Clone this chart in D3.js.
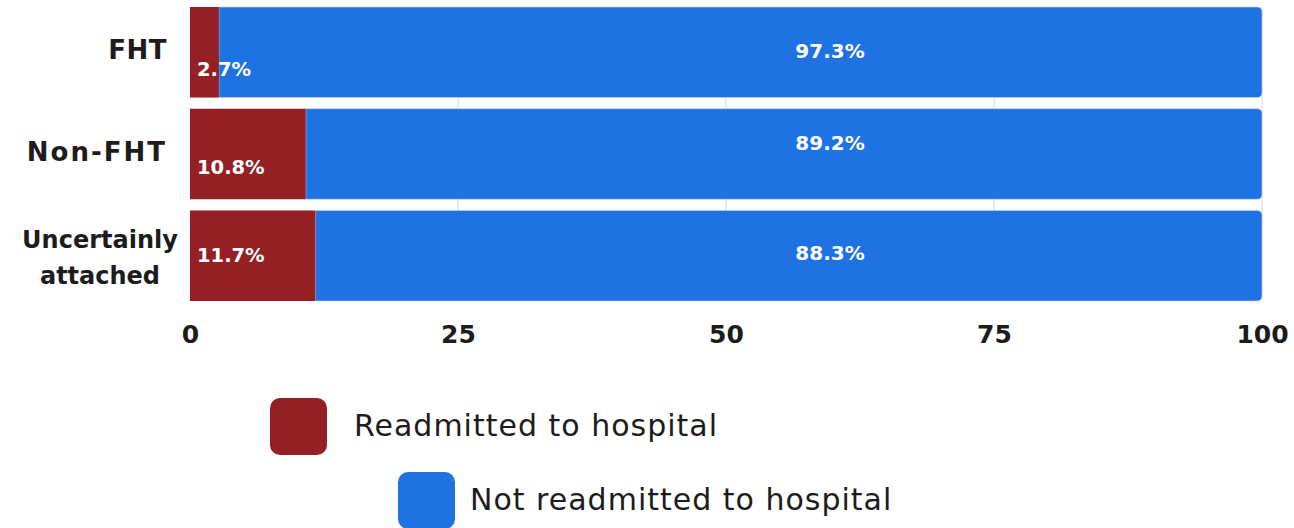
<!DOCTYPE html>
<html>
<head>
<meta charset="utf-8">
<script src="https://cdn.jsdelivr.net/npm/d3@7"></script>
<style>
  body { margin: 0; background: #fff; }
  svg { font-family: "DejaVu Sans", sans-serif; display: block; }
</style>
</head>
<body>
<div id="app"></div>
<script>
// DATA
const categories = ['FHT', 'Non-FHT', 'Uncertainly attached'];
const readmitted = [2.7, 10.8, 11.7];
const notReadmitted = [97.3, 89.2, 88.3];
const xTicks = [0, 25, 50, 75, 100];
const seriesNames = ['Readmitted to hospital', 'Not readmitted to hospital'];

const colors = ['#941f25', '#1f72e2'];
const width = 1294, height = 528;
const margin = { top: 7, left: 190, right: 32 };
const plotH = 294;

const svg = d3.select('#app').append('svg')
  .attr('width', width)
  .attr('height', height);

const x = d3.scaleLinear().domain([0, 100]).range([margin.left, width - margin.right]);
const y = d3.scaleBand().domain(categories).range([margin.top, margin.top + plotH]).paddingInner(0.11).paddingOuter(0.0);

// grid
svg.append('g')
  .selectAll('line')
  .data(xTicks.slice(1))
  .enter().append('line')
    .attr('x1', d => x(d)).attr('x2', d => x(d))
    .attr('y1', margin.top).attr('y2', margin.top + plotH)
    .attr('stroke', '#d9d9d9').attr('stroke-width', 1);

const rows = categories.map((c, i) => ({ cat: c, r: readmitted[i], n: notReadmitted[i] }));

// blue segment, rounded right end
const bars = svg.append('g');
bars.selectAll('path.blue')
  .data(rows)
  .enter().append('path')
    .attr('class', 'blue')
    .attr('fill', colors[1])
    .attr('stroke', '#c9d6ea').attr('stroke-width', 0.6)
    .attr('d', d => {
      const x0 = x(d.r), x1 = x(d.r + d.n), y0 = y(d.cat), h = y.bandwidth(), r = 5;
      return `M${x0},${y0}H${x1 - r}Q${x1},${y0} ${x1},${y0 + r}V${y0 + h - r}Q${x1},${y0 + h} ${x1 - r},${y0 + h}H${x0}Z`;
    });

bars.selectAll('rect.red')
  .data(rows)
  .enter().append('rect')
    .attr('class', 'red')
    .attr('x', x(0))
    .attr('y', d => y(d.cat))
    .attr('width', d => x(d.r) - x(0))
    .attr('height', y.bandwidth())
    .attr('fill', colors[0]);

// value labels
const redDy = [0.69, 0.64, 0.49];
const blueDy = [0.49, 0.38, 0.47];
svg.append('g').selectAll('text')
  .data(rows)
  .enter().append('text')
    .attr('x', x(0) + 7)
    .attr('y', (d, i) => y(d.cat) + y.bandwidth() * redDy[i])
    .attr('dy', '0.35em')
    .attr('fill', '#fff')
    .attr('font-weight', 700)
    .attr('font-size', 19.5)
    .text(d => `${d.r}%`);

svg.append('g').selectAll('text')
  .data(rows)
  .enter().append('text')
    .attr('x', 830)
    .attr('y', (d, i) => y(d.cat) + y.bandwidth() * blueDy[i])
    .attr('dy', '0.35em')
    .attr('text-anchor', 'middle')
    .attr('fill', '#fff')
    .attr('font-weight', 700)
    .attr('font-size', 20)
    .text(d => `${d.n}%`);

// category labels
const catG = svg.append('g');
categories.forEach((c, i) => {
  const cy = y(c) + y.bandwidth() / 2;
  if (c === 'Uncertainly attached') {
    const t = catG.append('text')
      .attr('text-anchor', 'middle')
      .attr('font-weight', 700)
      .attr('font-size', 24)
      .attr('fill', '#1c1c1c');
    t.append('tspan').attr('x', 100).attr('y', cy - 8).text('Uncertainly');
    t.append('tspan').attr('x', 100).attr('y', cy + 28).text('attached');
  } else {
    catG.append('text')
      .attr('x', 167)
      .attr('y', cy - 2)
      .attr('dy', '0.35em')
      .attr('text-anchor', 'end')
      .attr('font-weight', 700)
      .attr('font-size', 26)
      .attr('letter-spacing', c === 'Non-FHT' ? 2 : 0.5)
      .attr('fill', '#1c1c1c')
      .text(c);
  }
});

// x axis
const xAxis = svg.append('g')
  .attr('transform', `translate(0,${margin.top + plotH})`)
  .call(d3.axisBottom(x).tickValues(xTicks).tickSize(0).tickPadding(24));
xAxis.select('.domain').remove();
xAxis.selectAll('text')
  .attr('font-family', '"DejaVu Sans", sans-serif')
  .attr('font-size', 25)
  .attr('font-weight', 700)
  .attr('fill', '#1c1c1c');

// legend
const legendPos = [{ x: 270, y: 398, tx: 354 }, { x: 398, y: 472, tx: 470 }];
const legend = svg.append('g');
seriesNames.forEach((s, i) => {
  const p = legendPos[i];
  legend.append('rect')
    .attr('x', p.x).attr('y', p.y)
    .attr('width', 57).attr('height', 57)
    .attr('rx', 10)
    .attr('fill', colors[i]);
  legend.append('text')
    .attr('x', p.tx).attr('y', p.y + 27)
    .attr('dy', '0.35em')
    .attr('font-size', 30)
    .attr('letter-spacing', 1)
    .attr('fill', '#1c1c1c')
    .text(s);
});
</script>
</body>
</html>
